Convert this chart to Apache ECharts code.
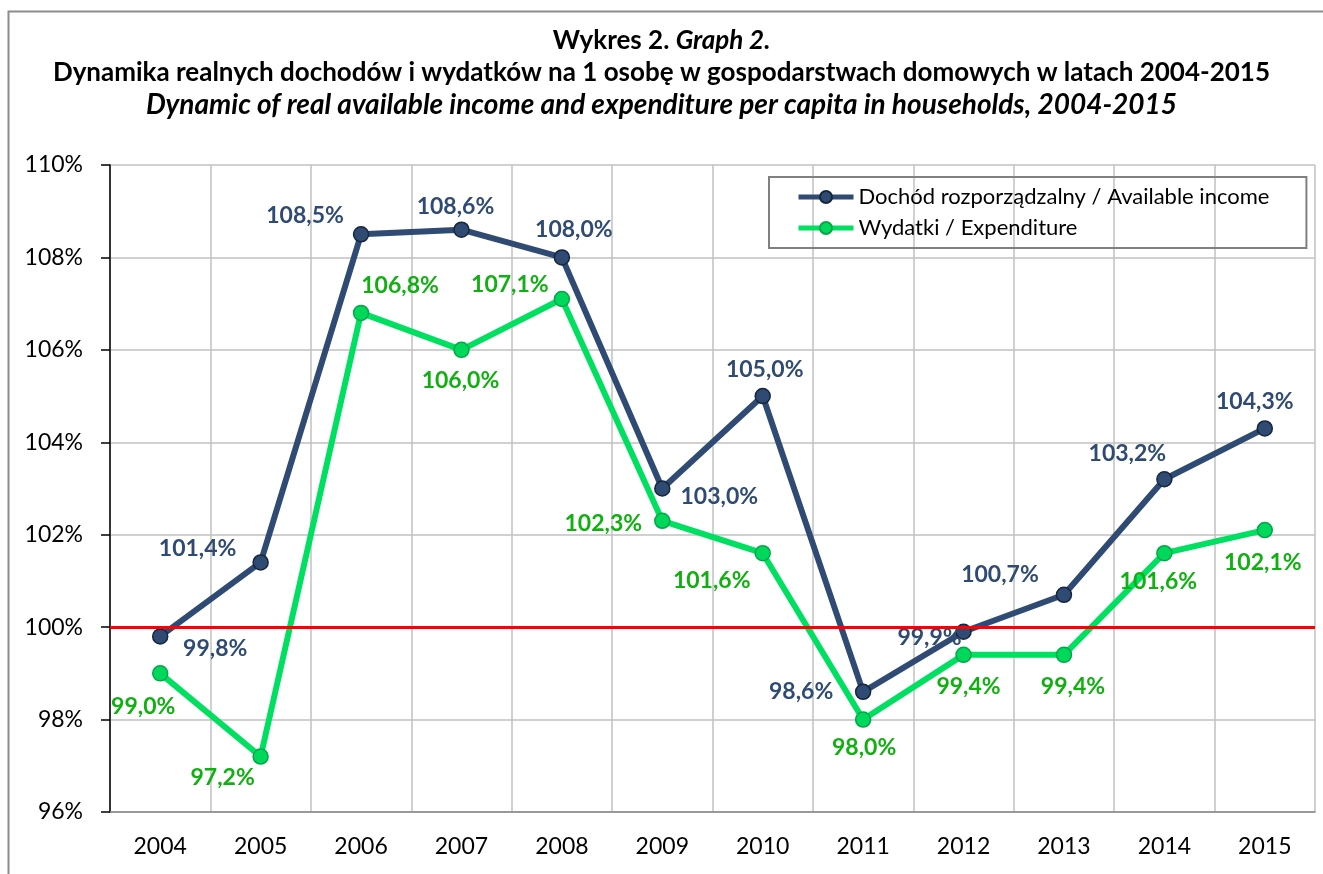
<!DOCTYPE html>
<html>
<head>
<meta charset="utf-8">
<script src="https://cdn.jsdelivr.net/npm/echarts@6/dist/echarts.min.js"></script>
<style>
  html, body { margin: 0; padding: 0; background: #fff; }
  #container { width: 1323px; height: 874px; }
</style>
</head>
<body>
<div id="container"></div>
<script>
// data
var years = ['2004', '2005', '2006', '2007', '2008', '2009', '2010', '2011', '2012', '2013', '2014', '2015'];
var incomeName = 'Dochód rozporządzalny / Available income';
var expenseName = 'Wydatki / Expenditure';
var income = [99.8, 101.4, 108.5, 108.6, 108.0, 103.0, 105.0, 98.6, 99.9, 100.7, 103.2, 104.3];
var expense = [99.0, 97.2, 106.8, 106.0, 107.1, 102.3, 101.6, 98.0, 99.4, 99.4, 101.6, 102.1];
var baseline = 100;

// label placement (pixel offsets from each point)
var incomeOffsets = [[55, 12], [-63, -14], [-56, -19], [-6, -23], [12, -28], [57, 8], [2, -26], [-62, 0], [-34, 6], [-64, -20], [-37, -26], [-10, -27]];
var expenseOffsets = [[-17, 33], [-38, 21], [39, -27], [-1, 31], [-52, -14], [-59, 3], [-51, 27], [1, 28], [5, 32], [9, 32], [-6, 28], [-2, 32]];

var fmt = function (v) { return v.toFixed(1).replace('.', ',') + '%'; };

var withLabels = function (values, offsets) {
    return values.map(function (v, i) {
        return { value: v, label: { offset: offsets[i] } };
    });
};

var dom = document.getElementById('container');
var myChart = echarts.init(dom);
var option = {
    backgroundColor: '#fff',
    animation: false,
    graphic: [{
        type: 'rect',
        shape: { x: 8.5, y: 11.5, width: 1400, height: 1000 },
        style: { fill: 'none', stroke: '#8c8c8c', lineWidth: 2 },
        silent: true
    }],
    title: {
        left: 'center',
        top: 20,
        text: '{b|Wykres 2. }{bi|Graph 2.}\n{b|Dynamika realnych dochodów i wydatków na 1 osobę w gospodarstwach domowych w latach 2004-2015}\n{i3|Dynamic of real available income and expenditure per capita in households, 2004-2015}',
        textStyle: {
            rich: {
                b: { fontFamily: 'Lato', fontWeight: 'bold', fontSize: 26, color: '#000', lineHeight: 32 },
                bi: { fontFamily: 'Lato', fontWeight: 'bold', fontStyle: 'italic', fontSize: 26, color: '#000', lineHeight: 32 },
                i3: { fontFamily: 'Lato', fontWeight: 'bold', fontStyle: 'italic', fontSize: 28, color: '#000', lineHeight: 32 }
            }
        }
    },
    legend: {
        orient: 'vertical',
        left: 769,
        top: 177,
        padding: [9, 37, 9, 27],
        itemWidth: 55,
        itemHeight: 15,
        itemGap: 9,
        borderColor: '#808080',
        borderWidth: 2,
        lineStyle: { width: 5 },
        textStyle: { fontFamily: 'Lato', fontSize: 22, color: '#000' },
        data: [incomeName, expenseName]
    },
    grid: { left: 110, right: 8, top: 165, bottom: 62 },
    xAxis: {
        type: 'category',
        data: years,
        boundaryGap: true,
        axisLine: { lineStyle: { color: '#868686', width: 1.5 } },
        axisTick: { show: false },
        axisLabel: { fontFamily: 'Lato', fontSize: 23, color: '#000', margin: 23 },
        splitLine: { show: true, interval: 0, lineStyle: { color: '#c0c0c0', width: 1.5 } }
    },
    yAxis: {
        type: 'value',
        min: 96,
        max: 110,
        interval: 2,
        axisLine: { show: true, lineStyle: { color: '#000', width: 1.5 } },
        axisTick: { show: true, length: 9, lineStyle: { color: '#000', width: 1.5 } },
        axisLabel: { fontFamily: 'Lato', fontSize: 23, color: '#000', margin: 27, formatter: function (v) { return v + '%'; } },
        splitLine: { lineStyle: { color: '#c0c0c0', width: 1.5 } }
    },
    series: [
        {
            name: incomeName,
            type: 'line',
            data: withLabels(income, incomeOffsets),
            symbol: 'circle',
            symbolSize: 15,
            z: 4,
            lineStyle: { color: '#2f4b73', width: 6 },
            itemStyle: { color: '#2f4b73', borderColor: '#16263d', borderWidth: 1.5 },
            label: {
                show: true,
                position: 'inside',
                fontFamily: 'Lato',
                fontWeight: 'bold',
                fontSize: 23,
                color: '#2f4b73',
                formatter: function (p) { return fmt(p.value); }
            },
            markLine: {
                silent: true,
                symbol: 'none',
                label: { show: false },
                lineStyle: { color: '#ff0000', width: 3, type: 'solid' },
                data: [{ yAxis: baseline }]
            }
        },
        {
            name: expenseName,
            type: 'line',
            data: withLabels(expense, expenseOffsets),
            symbol: 'circle',
            symbolSize: 15,
            z: 3,
            lineStyle: { color: '#00e060', width: 6 },
            itemStyle: { color: '#00d85c', borderColor: '#00a848', borderWidth: 1.5 },
            label: {
                show: true,
                position: 'inside',
                fontFamily: 'Lato',
                fontWeight: 'bold',
                fontSize: 23,
                color: '#10b010',
                formatter: function (p) { return fmt(p.value); }
            }
        }
    ]
};
myChart.setOption(option);
</script>
</body>
</html>
